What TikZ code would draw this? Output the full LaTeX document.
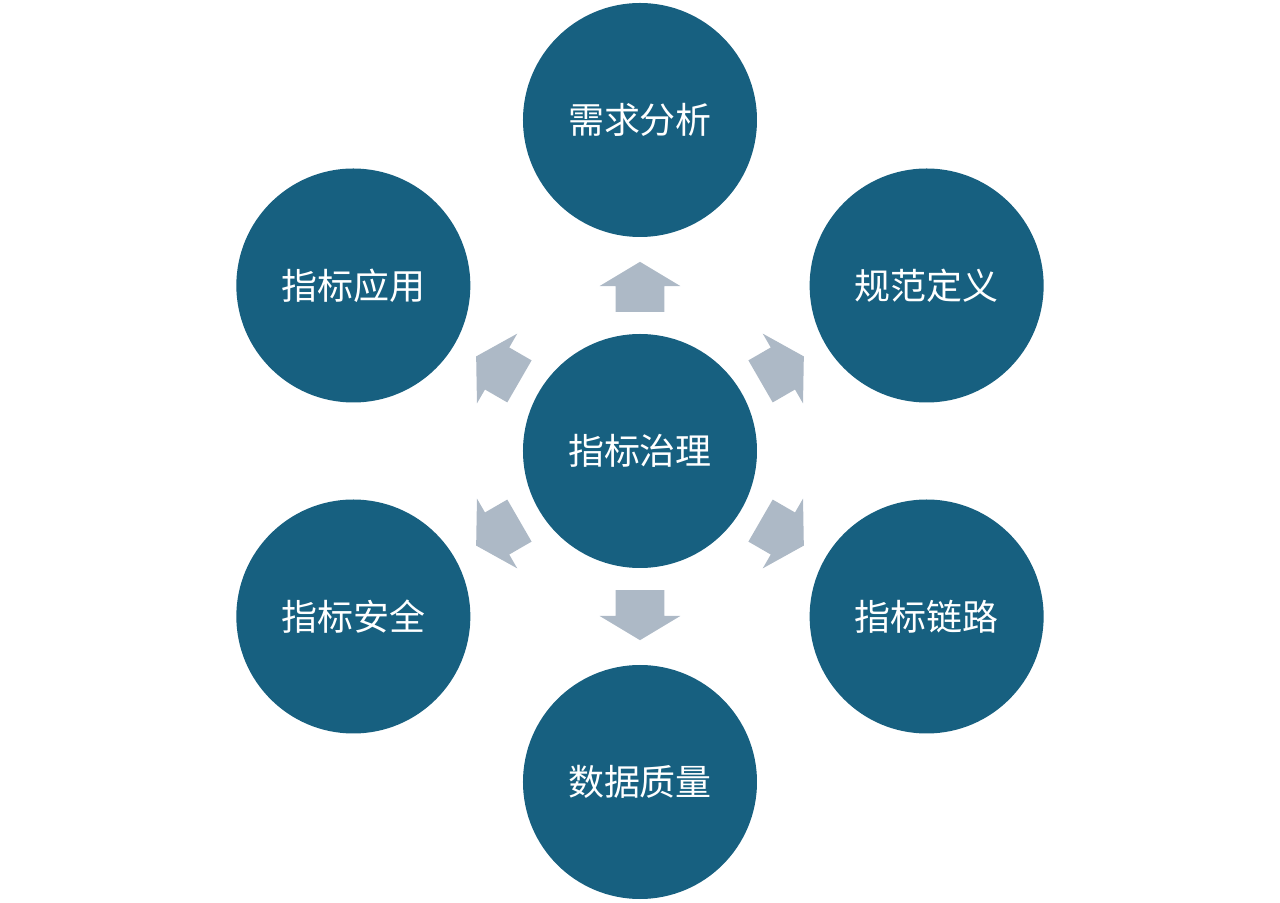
\documentclass[tikz,border=0pt]{standalone}
\usepackage{xcolor}
\usepackage{fontspec}
\usepackage{tikz}
\usetikzlibrary{shapes.arrows, positioning, calc}
\newfontfamily\cjk{Noto Sans CJK SC}
\definecolor{ringblue}{RGB}{23,96,128}
\definecolor{arrowgray}{RGB}{173,185,198}

\begin{document}
\begin{tikzpicture}
    \tikzstyle{topic} = [circle, fill=ringblue, text=white, minimum size=5.85cm, inner sep=0pt, font=\cjk\fontsize{25.6}{30}\selectfont]
    \tikzstyle{flow} = [single arrow, fill=arrowgray, draw=none, inner xsep=0pt, inner ysep=0.6cm, minimum height=1.25cm, single arrow head extend=0.4cm, single arrow tip angle=118]

    \useasboundingbox (-16,-11.3) rectangle (16,11.275);

    % Center
    \node[topic] (core) at (0,0) {指标治理};

    % Outer ring
    \node[topic] (req) at (90:8.275) {需求分析};
    \node[topic] (spec) at (30:8.275) {规范定义};
    \node[topic] (chain) at (-30:8.275) {指标链路};
    \node[topic] (qual) at (-90:8.275) {数据质量};
    \node[topic] (safe) at (-150:8.275) {指标安全};
    \node[topic] (app) at (150:8.275) {指标应用};

    % Arrows
    \node[flow, rotate=90] (a1) at ($(core)!0.474!(req)$) {};
    \node[flow, rotate=30] (a2) at ($(core)!0.474!(spec)$) {};
    \node[flow, rotate=-30] (a3) at ($(core)!0.474!(chain)$) {};
    \node[flow, rotate=-90] (a4) at ($(core)!0.474!(qual)$) {};
    \node[flow, rotate=-150] (a5) at ($(core)!0.474!(safe)$) {};
    \node[flow, rotate=150] (a6) at ($(core)!0.474!(app)$) {};
\end{tikzpicture}
\end{document}
